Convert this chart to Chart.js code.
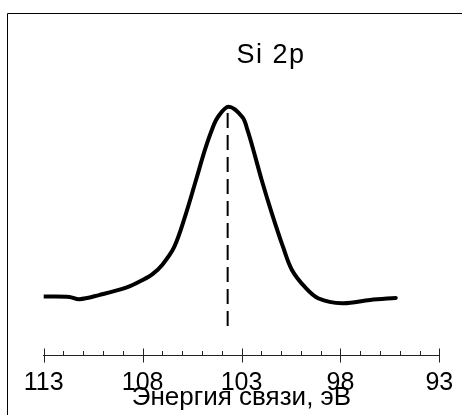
<!DOCTYPE html>
<html>
<head>
<meta charset="utf-8">
<script src="https://cdn.jsdelivr.net/npm/chart.js@4.4.1/dist/chart.umd.min.js"></script>
<style>
  html, body { margin: 0; padding: 0; background: #fff; }
  #wrap { position: relative; width: 462px; height: 415px; overflow: hidden; }
  canvas { position: absolute; left: 0; top: 0; }
</style>
</head>
<body>
<div id="wrap"><canvas id="c" width="462" height="415"></canvas></div>
<script>
// Binding energy (eV) and intensity (arb. units)
const energy    = [113.0, 111.7, 111.2, 110.2, 108.8, 108.0, 107.5, 107.0, 106.4, 105.8, 105.3, 104.85, 104.5, 104.2, 103.65, 102.95, 102.7, 102.4, 101.98, 101.47, 100.9, 100.45, 99.8, 99.1, 97.9, 96.5, 95.2];
const intensity = [0.2,   0.0,   -1.2,  1.0,   5.0,   8.9,   12.0,  17.0,  26.3,  44.1,  61.5,  77.3,   87.8,  94.5,   100.0,  94.5,  87.8,   77.3,  61.5,   44.1,   26.3,  14.2,   5.3,  -0.8, -3.3, -1.6, -0.5];
// Peak position marker (dashed line)
const peakEnergy = [103.7, 103.7];
const peakLine   = [96.7, -18.4];
// Axis
const tickLabels = [113, 108, 103, 98, 93];
const minorTicks = [];
for (let e = 93; e <= 113; e++) minorTicks.push(e);
const titleText = 'Si 2p';
const axisTitle = 'Энергия связи, эВ';

const curve = energy.map((e, i) => ({x: e, y: intensity[i]}));
const marker = peakEnergy.map((e, i) => ({x: e, y: peakLine[i]}));
const FONT = '"Liberation Sans", Arial, sans-serif';

const framePlugin = {
  id: 'frame',
  beforeDraw(chart) {
    const ctx = chart.ctx;
    ctx.save();
    ctx.strokeStyle = '#000';
    ctx.lineWidth = 1;
    ctx.beginPath();
    ctx.moveTo(7.5, 415);
    ctx.lineTo(7.5, 13.5);
    ctx.lineTo(462, 13.5);
    ctx.stroke();
    ctx.restore();
  }
};

const ticksPlugin = {
  id: 'tickmarks',
  afterDraw(chart) {
    const sx = chart.scales.x;
    const ctx = chart.ctx;
    const y0 = Math.round(sx.top) + 0.5;
    ctx.save();
    ctx.strokeStyle = '#222';
    ctx.lineWidth = 1;
    ctx.beginPath();
    minorTicks.forEach(v => {
      const px = Math.round(sx.getPixelForValue(v)) + 0.5;
      if (tickLabels.includes(v)) {
        ctx.moveTo(px, y0 - 7);
        ctx.lineTo(px, y0 + 7);
      } else {
        ctx.moveTo(px, y0 - 4.5);
        ctx.lineTo(px, y0);
      }
    });
    ctx.stroke();
    ctx.fillStyle = '#000';
    ctx.font = '27px ' + FONT;
    try { ctx.letterSpacing = '1.5px'; } catch (e) {}
    ctx.textAlign = 'center';
    ctx.textBaseline = 'middle';
    ctx.fillText(titleText, 271, 56);
    ctx.restore();
  }
};

new Chart(document.getElementById('c'), {
  type: 'scatter',
  data: {
    datasets: [
      {
        data: curve,
        showLine: true,
        borderColor: '#000',
        borderWidth: 4,
        pointRadius: 0,
        tension: 0.35,
        borderCapStyle: 'round',
        borderJoinStyle: 'round'
      },
      {
        data: marker,
        showLine: true,
        borderColor: '#000',
        borderWidth: 2,
        borderDash: [15, 7],
        pointRadius: 0
      }
    ]
  },
  options: {
    responsive: false,
    animation: false,
    devicePixelRatio: 1,
    layout: { padding: { left: 43.7, right: 22.7, top: 20, bottom: 0 } },
    plugins: { legend: { display: false }, tooltip: { enabled: false }, title: { display: false } },
    scales: {
      x: {
        type: 'linear',
        min: 93,
        max: 113,
        reverse: true,
        afterBuildTicks(scale) { scale.ticks = tickLabels.map(v => ({value: v})); },
        afterFit(scale) { scale.height = 60; scale.paddingLeft = 0; scale.paddingRight = 0; },
        grid: { display: false, drawTicks: false },
        border: { display: true, color: '#222', width: 1 },
        ticks: {
          padding: 13,
          color: '#000',
          maxRotation: 0,
          autoSkip: false,
          font: { family: FONT, size: 25, lineHeight: 1.2 }
        },
        title: {
          display: true,
          text: axisTitle,
          color: '#000',
          font: { family: FONT, size: 26, lineHeight: 1.2 },
          padding: { top: 0, bottom: 2 }
        }
      },
      y: {
        display: false,
        min: -30.5,
        max: 145.6
      }
    }
  },
  plugins: [framePlugin, ticksPlugin]
});
</script>
</body>
</html>
